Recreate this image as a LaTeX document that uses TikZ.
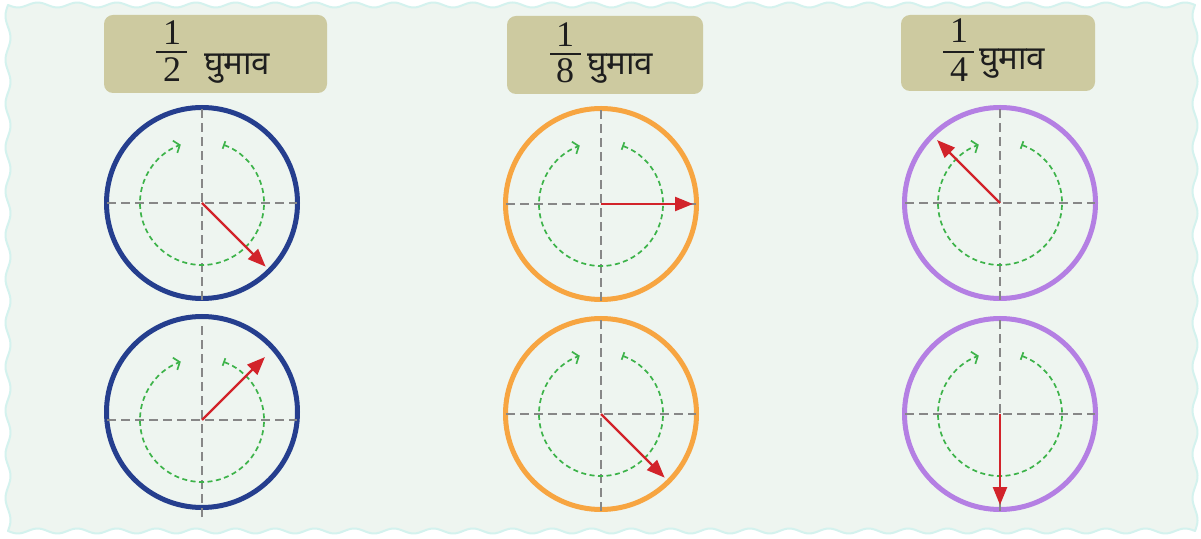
\documentclass[tikz,border=0pt]{standalone}
\usepackage{fontspec}
\newfontfamily\hindi[Script=Devanagari]{Noto Sans}
\newfontfamily\digitfont{Liberation Serif}
\usetikzlibrary{arrows.meta}
\definecolor{bgc}{RGB}{238,245,240}
\definecolor{wavec}{RGB}{212,242,238}
\definecolor{tanc}{RGB}{205,202,160}
\definecolor{navyc}{RGB}{37,62,142}
\definecolor{orangec}{RGB}{247,165,65}
\definecolor{purplec}{RGB}{180,127,227}
\definecolor{redc}{RGB}{210,35,42}
\definecolor{greenc}{RGB}{61,179,74}
\definecolor{grayc}{RGB}{135,135,135}
\definecolor{textc}{RGB}{30,30,30}
\newcommand\wheel[6]{%
  \node[wheelring, draw=#4] (#1ring) at (#2) {};
  \coordinate (#1c) at (#3);
  \coordinate (#1l) at ([xshift=-95pt]#1c);
  \coordinate (#1r) at ([xshift=95pt]#1c);
  \coordinate (#1b) at ([yshift=-97pt]#1c);
  \coordinate (#1u) at ([yshift=96pt]#1c);
  \draw[axisline] (#1l) -- (#1r);
  \draw[axisline] (#1b) -- (#1u);
  \draw[turnarc] ([shift={(70:62pt)}]#1c) arc[start angle=70,end angle=-250,radius=62pt];
  \coordinate (#1t) at ([shift={(#5:#6pt)}]#1c);
  \draw[pointer] (#1c) -- (#1t);
}
\begin{document}
\begin{tikzpicture}[x=1pt,y=1pt,
  wheelring/.style={circle, minimum size=191pt, inner sep=0pt, line width=5pt},
  axisline/.style={grayc, line width=2.4pt, dash pattern=on 9pt off 5pt},
  turnarc/.style={greenc, line width=1.7pt, dash pattern=on 5pt off 3.5pt,
     {Bar[width=8pt]}-{Straight Barb[length=5pt,width=13pt]}},
  pointer/.style={redc, line width=2.4pt, -{Triangle[length=18pt,width=14pt]}},
  labelbox/.style={fill=tanc, rounded corners=9pt, inner sep=0pt},
  digit/.style={text=textc, font=\digitfont\fontsize{36}{40}\selectfont, inner sep=0pt, anchor=base},
  hinditext/.style={text=textc, font=\hindi\fontsize{33}{38}\selectfont, inner sep=0pt, anchor=base west},
  fracbar/.style={textc, line width=1.6pt}]
\useasboundingbox (0,0) rectangle (1201,538);
\fill[white] (0,0) rectangle (1201,538);
\path[draw=wavec, fill=bgc, line width=2pt, line join=round]
  plot[domain=8:1195, samples=420] (\x,{533-2.5*sin(9.0985*(\x-8))})
  -- plot[domain=533:7, samples=200] ({1195-2.5*sin(8.213*(533-\x))},\x)
  -- plot[domain=1195:8, samples=420] (\x,{7+2.5*sin(9.0985*(1195-\x))})
  -- plot[domain=7:533, samples=200] ({8+2.5*sin(8.213*(\x-7))},\x)
  -- cycle;

% label boxes
\node[labelbox, minimum width=223pt, minimum height=78pt] (box1) at (215.5,484) {};
\node[labelbox, minimum width=196pt, minimum height=78pt] (box2) at (605,483) {};
\node[labelbox, minimum width=194pt, minimum height=76pt] (box3) at (998,485) {};

\node[digit] (n1) at (172,493) {1};
\draw[fracbar] (156,486) -- (187,486);
\node[digit] (d1) at (172,456) {2};
\node[hinditext] (h1) at (204,463) {घुमाव};

\node[digit] (n2) at (565,491) {1};
\draw[fracbar] (550,484) -- (581,484);
\node[digit] (d2) at (565,455) {8};
\node[hinditext] (h2) at (587,463) {घुमाव};

\node[digit] (n3) at (959,495) {1};
\draw[fracbar] (943,486) -- (974,486);
\node[digit] (d3) at (959,456) {4};
\node[hinditext] (h3) at (979,468) {घुमाव};

% wheels
\wheel{a}{202,335}{202,335}{navyc}{-45}{90}
\wheel{b}{202,126}{202,118}{navyc}{45}{89}
\wheel{c}{601,334}{601,334}{orangec}{0}{92}
\wheel{d}{601,124}{601,124}{orangec}{-45}{90}
\wheel{e}{1000,335}{1000,335}{purplec}{135}{89}
\wheel{f}{1000,124}{1000,124}{purplec}{-90}{91}
\end{tikzpicture}
\end{document}
